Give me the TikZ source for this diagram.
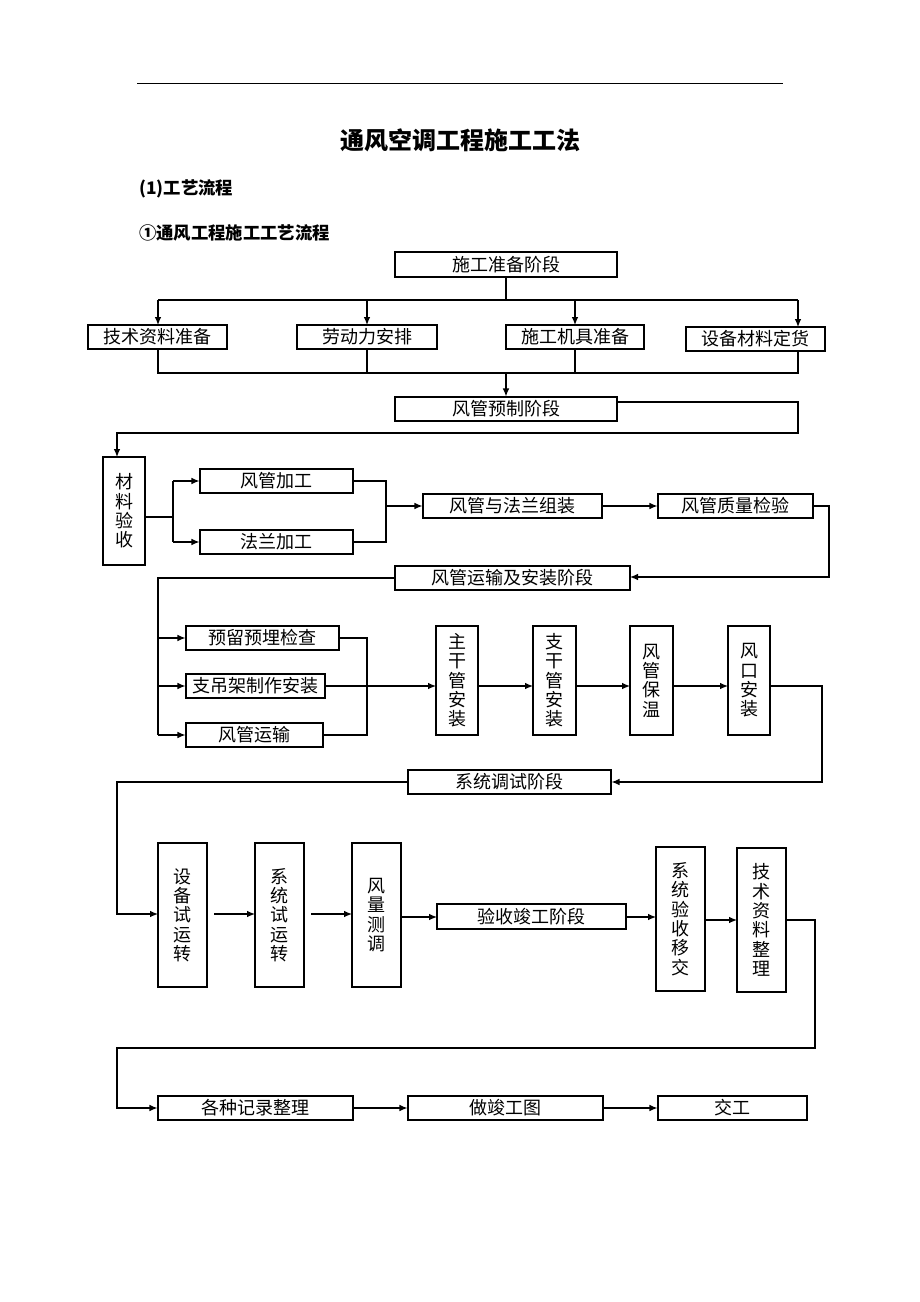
\documentclass[tikz,border=0pt]{standalone}
\usepackage{fontspec}
\setmainfont{Noto Sans CJK SC}
\usetikzlibrary{arrows.meta}
\newcommand{\bx}[6]{\node[box,minimum width={(#4-#2)*0.75pt},minimum height={(#5-#3)*0.75pt}] (#1) at ({(#2+#4)/2},{(#3+#5)/2}) {#6};}
\newcommand{\vbx}[6]{\node[box,vbox,minimum width={(#4-#2)*0.75pt},minimum height={(#5-#3)*0.75pt}] (#1) at ({(#2+#4)/2},{(#3+#5)/2}) {#6};}
\begin{document}
\begin{tikzpicture}[x=0.75pt,y=-0.75pt,
 box/.style={draw,line width=0.8pt,inner sep=0pt,font=\fontsize{13.5}{15}\selectfont},
 vbox/.style={align=center,font=\fontsize{13.5}{14.5}\selectfont},
 ln/.style={line width=0.9pt},
 ar/.style={line width=0.9pt,-{Latex[length=6pt,width=5pt]}}]
\useasboundingbox (0,0) rectangle (920,1302);
\coordinate (r1) at (137,83); \coordinate (r2) at (783,83);
\draw[line width=0.6pt] (r1) -- (r2);
\node[font=\fontsize{18}{20}\selectfont\bfseries] (title) at (460,140) {通风空调工程施工工法};
\node[anchor=west,font=\fontsize{13}{15}\selectfont\bfseries,inner sep=0pt] (h1) at (139,189) {(1)工艺流程};
\node[anchor=west,font=\fontsize{13}{15}\selectfont\bfseries,inner sep=0pt] (h2) at (139,233) {①通风工程施工工艺流程};
% stage 1
\bx{A}{395}{252}{617}{277}{施工准备阶段}
\bx{B1}{88}{325}{227}{349}{技术资料准备}
\bx{B2}{297}{325}{437}{349}{劳动力安排}
\bx{B3}{506}{325}{644}{349}{施工机具准备}
\bx{B4}{686}{327}{825}{351}{设备材料定货}
\bx{C}{395}{397}{617}{421}{风管预制阶段}
\coordinate (t0) at (506,300);
\draw[ln] (A.south -| t0) -- (t0);
\draw[ln] (158,300) -- (798,300);
\draw[ar] (158,300) -- (158,325);
\draw[ar] (367,300) -- (367,325);
\draw[ar] (575,300) -- (575,325);
\draw[ar] (798,300) -- (798,327);
\draw[ln] (158,349) -- (158,373) -- (798,373) -- (798,351);
\draw[ln] (367,349) -- (367,373);
\draw[ln] (575,349) -- (575,373);
\draw[ar] (506,373) -- (C.north -| t0);
% stage 2
\vbx{D}{103}{457}{145}{565}{材\\料\\验\\收}
\bx{E1}{200}{469}{353}{493}{风管加工}
\bx{E2}{200}{530}{353}{554}{法兰加工}
\bx{F}{423}{494}{602}{518}{风管与法兰组装}
\bx{G}{658}{494}{813}{518}{风管质量检验}
\bx{H}{395}{566}{630}{590}{风管运输及安装阶段}
\draw[ar] (617,402) -- (798,402) -- (798,433) -- (117,433) -- (117,457);
\draw[ln] (145,517) -- (173,517);
\draw[ln] (173,481) -- (173,542);
\draw[ar] (173,481) -- (E1.west);
\draw[ar] (173,542) -- (E2.west);
\draw[ln] (E1.east) -- (386,481) -- (386,542) -- (E2.east);
\draw[ar] (386,506) -- (F.west);
\draw[ar] (F.east) -- (G.west);
\draw[ar] (G.east) -- (829,506) -- (829,577) -- (630,577);
% stage 3
\bx{I1}{186}{626}{339}{650}{预留预埋检查}
\bx{I2}{186}{674}{325}{698}{支吊架制作安装}
\bx{I3}{186}{723}{323}{747}{风管运输}
\vbx{J1}{436}{626}{478}{735}{主\\干\\管\\安\\装}
\vbx{J2}{533}{626}{576}{735}{支\\干\\管\\安\\装}
\vbx{J3}{630}{626}{673}{735}{风\\管\\保\\温}
\vbx{J4}{728}{626}{770}{735}{风\\口\\安\\装}
\bx{K}{408}{770}{611}{794}{系统调试阶段}
\draw[ln] (395,578) -- (158,578) -- (158,735);
\draw[ar] (158,638) -- (I1.west);
\draw[ar] (158,686) -- (I2.west);
\draw[ar] (158,735) -- (I3.west);
\draw[ln] (I1.east) -- (367,638) -- (367,735) -- (I3.east);
\draw[ar] (I2.east) -- (436,686);
\draw[ar] (478,686) -- (533,686);
\draw[ar] (576,686) -- (630,686);
\draw[ar] (673,686) -- (728,686);
\draw[ar] (770,686) -- (822,686) -- (822,782) -- (K.east);
% stage 4
\vbx{L1}{158}{843}{207}{987}{设\\备\\试\\运\\转}
\vbx{L2}{255}{843}{304}{987}{系\\统\\试\\运\\转}
\vbx{L3}{352}{843}{401}{987}{风\\量\\测\\调}
\bx{M}{437}{904}{626}{929}{验收竣工阶段}
\vbx{N1}{656}{847}{705}{991}{系\\统\\验\\收\\移\\交}
\vbx{N2}{737}{848}{786}{992}{技\\术\\资\\料\\整\\理}
\draw[ar] (K.west) -- (117,782) -- (117,914) -- (158,914);
\draw[ar] (214,914) -- (255,914);
\draw[ar] (311,914) -- (352,914);
\draw[ar] (401,917) -- (437,917);
\draw[ar] (626,917) -- (656,917);
\draw[ar] (705,920) -- (737,920);
% stage 5
\bx{O1}{158}{1096}{353}{1120}{各种记录整理}
\bx{O2}{408}{1096}{603}{1120}{做竣工图}
\bx{O3}{658}{1096}{807}{1120}{交工}
\draw[ar] (786,920) -- (815,920) -- (815,1048) -- (117,1048) -- (117,1108) -- (O1.west);
\draw[ar] (O1.east) -- (O2.west);
\draw[ar] (O2.east) -- (O3.west);
\end{tikzpicture}
\end{document}
